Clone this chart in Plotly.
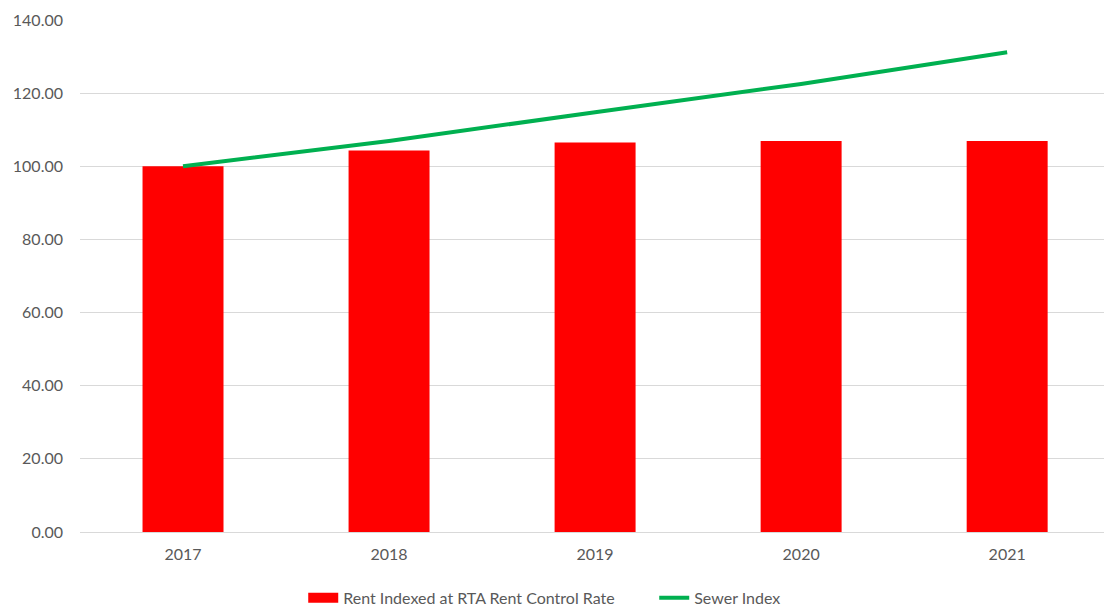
import plotly.graph_objects as go

years = ["2017", "2018", "2019", "2020", "2021"]
rent_index = [100.0, 104.3, 106.5, 106.9, 106.9]
sewer_index = [100.0, 106.9, 114.8, 122.5, 131.2]

rent_name = "Rent Indexed at RTA Rent Control Rate"

fig = go.Figure()
fig.add_trace(go.Bar(
    x=years, y=rent_index, name=rent_name, showlegend=False,
    marker=dict(color="#FF0000", line=dict(width=0)),
))
# legend key drawn as a wide red block (as in the reference)
fig.add_trace(go.Scatter(
    x=[None], y=[None], name=rent_name, mode="lines",
    line=dict(color="#FF0000", width=10), hoverinfo="skip",
))
fig.add_trace(go.Scatter(
    x=years, y=sewer_index, name="Sewer Index", mode="lines",
    line=dict(color="#00B050", width=4),
))

fig.update_layout(
    width=1104, height=612,
    margin=dict(l=80, r=0, t=20, b=80, autoexpand=False),
    paper_bgcolor="white", plot_bgcolor="white",
    font=dict(family="Lato, Open Sans, sans-serif", size=16, color="#595959"),
    bargap=0.607,
    showlegend=True,
    legend=dict(orientation="h", x=0.218, xanchor="left",
                yref="container", y=0.023, yanchor="middle",
                font=dict(size=16, color="#595959"), traceorder="normal",
                entrywidth=306, entrywidthmode="pixels"),
    xaxis=dict(type="category", range=[-0.5, 4.47], showgrid=False, zeroline=False,
               showline=False, ticks="", ticklabelstandoff=11,
               tickfont=dict(size=16, color="#595959")),
    yaxis=dict(range=[0, 140], dtick=20, tickformat=".2f", showgrid=True,
               gridcolor="#D9D9D9", gridwidth=1, zeroline=True, zerolinecolor="#D9D9D9",
               zerolinewidth=1, showline=False, ticks="", ticklen=0, ticklabelstandoff=16,
               tickfont=dict(size=16, color="#595959")),
)

fig.write_html("out.html")
